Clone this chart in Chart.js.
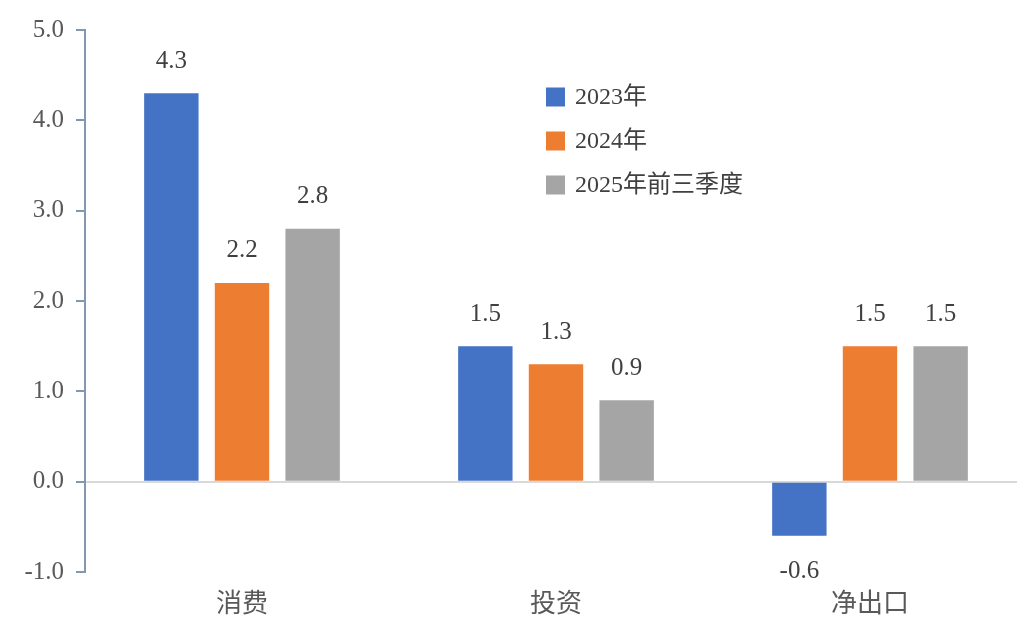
<!DOCTYPE html>
<html>
<head>
<meta charset="utf-8">
<script src="https://cdn.jsdelivr.net/npm/chart.js@4.4.1/dist/chart.umd.min.js"></script>
<style>
  html, body { margin: 0; padding: 0; background: #ffffff; overflow: hidden; }
  #wrap { position: relative; width: 1040px; height: 622px; }
</style>
</head>
<body>
<div id="wrap"><canvas id="c"></canvas></div>
<script>
// Contribution to GDP growth by demand component (percentage points)
const categories = ['消费', '投资', '净出口'];
const seriesNames = ['2023年', '2024年', '2025年前三季度'];
const values2023 = [4.3, 1.5, -0.6];
const values2024 = [2.2, 1.3, 1.5];
const values2025 = [2.8, 0.9, 1.5];
const yTicks = [-1.0, 0.0, 1.0, 2.0, 3.0, 4.0, 5.0];

const colors = ['#4472C4', '#ED7D31', '#A5A5A5'];
const serifFont = '"Liberation Serif", "Noto Sans CJK SC", serif';
const cjkFont = '"Noto Sans CJK SC", "Liberation Serif", sans-serif';

// Value labels above positive bars and below negative ones
const valueLabels = {
  id: 'valueLabels',
  afterDatasetsDraw(chart) {
    const ctx = chart.ctx;
    ctx.save();
    ctx.font = '25px ' + serifFont;
    ctx.fillStyle = '#404040';
    ctx.textAlign = 'center';
    ctx.textBaseline = 'middle';
    chart.data.datasets.forEach((ds, di) => {
      const meta = chart.getDatasetMeta(di);
      meta.data.forEach((bar, i) => {
        const v = ds.data[i];
        const y = v >= 0 ? bar.y - 32 : bar.y + 36;
        ctx.fillText(v.toFixed(1), bar.x, y);
      });
    });
    ctx.restore();
  }
};

// Legend drawn inside the plot area
const insideLegend = {
  id: 'insideLegend',
  afterDraw(chart, args, opts) {
    const ctx = chart.ctx;
    ctx.save();
    ctx.font = '24px ' + serifFont;
    ctx.textAlign = 'left';
    ctx.textBaseline = 'middle';
    chart.data.datasets.forEach((ds, i) => {
      const cy = opts.y + i * opts.gap;
      ctx.fillStyle = ds.backgroundColor;
      ctx.fillRect(opts.x, cy - opts.box / 2, opts.box, opts.box);
      ctx.fillStyle = '#404040';
      ctx.fillText(ds.label, opts.x + opts.box + 10, cy + 1);
    });
    ctx.restore();
  }
};

new Chart(document.getElementById('c'), {
  type: 'bar',
  data: {
    labels: categories,
    datasets: [
      { label: seriesNames[0], data: values2023, backgroundColor: colors[0] },
      { label: seriesNames[1], data: values2024, backgroundColor: colors[1] },
      { label: seriesNames[2], data: values2025, backgroundColor: colors[2] }
    ]
  },
  options: {
    responsive: true,
    maintainAspectRatio: false,
    animation: false,
    layout: { padding: { left: 0, right: 13, top: 30, bottom: 0 } },
    datasets: { bar: { categoryPercentage: 0.675, barPercentage: 0.77 } },
    plugins: {
      legend: { display: false },
      tooltip: { enabled: false },
      insideLegend: { x: 546, y: 97, gap: 44, box: 19 }
    },
    scales: {
      x: {
        grid: { display: false, drawTicks: false },
        border: { display: false },
        ticks: {
          font: { family: cjkFont, size: 26 },
          color: '#595959',
          padding: 15
        },
        afterFit(scale) { scale.height = 50; }
      },
      y: {
        min: -1,
        max: 5,
        afterBuildTicks(scale) { scale.ticks = yTicks.map(v => ({ value: v })); },
        afterFit(scale) { scale.width = 85; },
        border: { display: true, color: '#8497B0', width: 2 },
        grid: {
          drawOnChartArea: true,
          drawTicks: true,
          tickLength: 9,
          tickWidth: 2,
          tickColor: '#8497B0',
          lineWidth: 2,
          color: (c) => (c.tick && c.tick.value === 0 ? '#D9D9D9' : 'rgba(0,0,0,0)')
        },
        ticks: {
          font: { family: serifFont, size: 25 },
          color: '#595959',
          padding: 12,
          callback: (v) => Number(v).toFixed(1)
        }
      }
    }
  },
  plugins: [valueLabels, insideLegend]
});
</script>
</body>
</html>
